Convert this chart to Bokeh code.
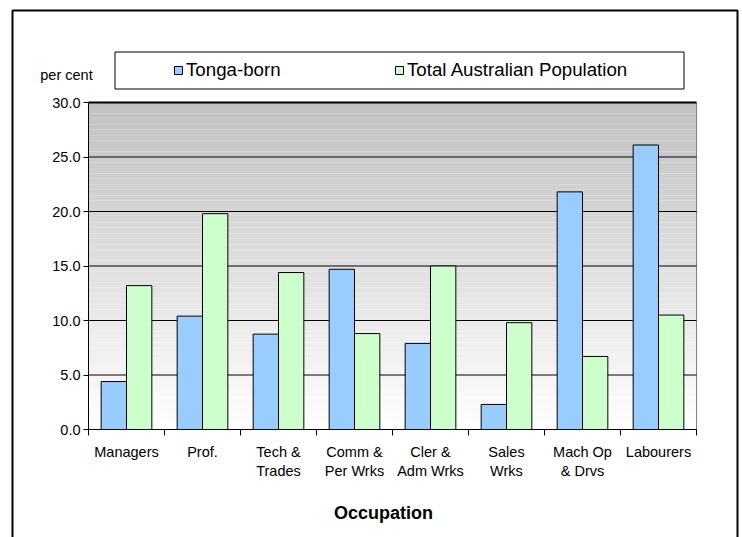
import numpy as np
from bokeh.plotting import figure
from bokeh.models import (Range1d, FixedTicker, NumeralTickFormatter, Legend, LegendItem,
                          BoxAnnotation, PolyAnnotation, Label, ColumnDataSource, LinearAxis)
from bokeh.embed import file_html
from bokeh.resources import INLINE

# ---- data ----
categories = ["Managers", "Prof.", "Tech &\nTrades", "Comm &\nPer Wrks",
              "Cler &\nAdm Wrks", "Sales\nWrks", "Mach Op\n& Drvs", "Labourers"]
tonga_born = [4.4, 10.4, 8.75, 14.7, 7.9, 2.3, 21.8, 26.1]
total_australian = [13.2, 19.8, 14.4, 8.8, 15.0, 9.8, 6.7, 10.5]
series_names = ["Tonga-born", "Total Australian Population"]
y_ticks = [0, 5, 10, 15, 20, 25, 30]
y_axis_title = "per cent"
x_axis_title = "Occupation"

FONT = "Liberation Sans"
BLUE = "#99ccff"
GREEN = "#ccffcc"

# ---- layout geometry (pixels) ----
W, H = 742, 537
PL, PR, PT, PB = 88, 696, 102, 429   # plot area

n = len(categories)
x0, x1 = -0.5, n - 0.5
y0, y1 = 0.0, 30.0
kx = (x1 - x0) / (PR - PL)
ky = (y1 - y0) / (PB - PT)

p = figure(width=W, height=H, output_backend="svg", toolbar_location=None,
           x_range=Range1d(x0 - PL * kx, x1 + (W - PR) * kx),
           y_range=Range1d(y0 - (H - PB) * ky, y1 + PT * ky),
           x_axis_location=None, y_axis_location=None,
           min_border=0, min_border_left=0, min_border_right=0,
           min_border_top=0, min_border_bottom=0)
p.background_fill_color = "white"
p.border_fill_color = "white"
p.outline_line_color = None
for g in p.grid:
    g.visible = False

# gradient background of the plot area (style only)
nb = 60
edges = np.linspace(y0, y1, nb + 1)
shades = []
for i in range(nb):
    t = (edges[i] + edges[i + 1]) / 2 / y1
    g = int(round(255 - (255 - 192) * t))
    shades.append("#%02x%02x%02x" % (g, g, g))
p.quad(left=x0, right=x1, bottom=edges[:-1], top=edges[1:],
       fill_color=shades, line_color=None, level="image")

# plot-area right edge (gray) and horizontal grid lines limited to the plot area
p.segment(x0=[x1], y0=[y0], x1=[x1], y1=[y1], line_color="#808080", line_width=1,
          level="underlay")
grid_w = [2 if t == max(y_ticks) else 1 for t in y_ticks]
p.segment(x0=x0, x1=x1, y0=y_ticks, y1=y_ticks, line_color="black",
          line_width=grid_w, level="underlay")

idx = np.arange(n)
bw = 1.0 / 3.0
src = ColumnDataSource(dict(x1=idx - bw / 2, x2=idx + bw / 2,
                            t=tonga_born, a=total_australian))
r1 = p.vbar(x="x1", top="t", width=bw, source=src, fill_color=BLUE,
            line_color="black", line_width=1)
r2 = p.vbar(x="x2", top="a", width=bw, source=src, fill_color=GREEN,
            line_color="black", line_width=1)

# axes
xa = LinearAxis(fixed_location=y0, bounds=(x0, x1))
xa.ticker = FixedTicker(ticks=list(range(n)), minor_ticks=[i - 0.5 for i in range(n + 1)])
xa.major_label_overrides = {i: c for i, c in enumerate(categories)}
xa.major_tick_in = 0
xa.major_tick_out = 0
xa.minor_tick_in = 0
xa.minor_tick_out = 6
xa.minor_tick_line_color = "black"
xa.axis_line_color = "black"
xa.major_label_standoff = 8
xa.major_label_text_font = FONT
xa.major_label_text_font_size = "14.5px"
xa.major_label_text_color = "black"
p.add_layout(xa, "below")

ya = LinearAxis(fixed_location=x0, bounds=(y0, y1))
ya.ticker = FixedTicker(ticks=y_ticks)
ya.formatter = NumeralTickFormatter(format="0.0")
ya.major_tick_in = 0
ya.major_tick_out = 5
ya.minor_tick_line_color = None
ya.axis_line_color = "black"
ya.major_tick_line_color = "black"
ya.major_label_standoff = 3
ya.major_label_text_font = FONT
ya.major_label_text_font_size = "14.5px"
ya.major_label_text_color = "black"
p.add_layout(ya, "left")

# outer chart frame (open at the bottom) and legend box (screen px, origin bottom-left)
p.add_layout(PolyAnnotation(xs=[12, 12, 737, 737], ys=[-20, H - 10, H - 10, -20],
                            xs_units="screen", ys_units="screen",
                            fill_alpha=0, line_color="black", line_alpha=1.0,
                            line_width=2))
p.add_layout(BoxAnnotation(left=114.5, right=683.5, top=H - 51.5, bottom=H - 88.5,
                           left_units="screen", right_units="screen",
                           top_units="screen", bottom_units="screen",
                           fill_color="white", fill_alpha=1,
                           line_color="black", line_alpha=1.0, line_width=1))

def mk_legend(item, xpix):
    return Legend(items=[item], location=(xpix, H - 81), orientation="horizontal",
                  border_line_color=None, background_fill_alpha=0, padding=0, margin=0,
                  glyph_width=10, glyph_height=10, label_standoff=3, spacing=0,
                  label_text_font=FONT, label_text_font_size="18.7px",
                  label_text_color="black", label_height=22)

p.add_layout(mk_legend(LegendItem(label=series_names[0], renderers=[r1]), 173))
p.add_layout(mk_legend(LegendItem(label=series_names[1], renderers=[r2]), 394))

p.add_layout(Label(x=66, y=H - 74, x_units="screen", y_units="screen",
                   text=y_axis_title, text_align="center", text_baseline="middle",
                   text_font=FONT, text_font_size="14.5px", text_color="black"))
p.add_layout(Label(x=383, y=H - 512, x_units="screen", y_units="screen",
                   text=x_axis_title, text_align="center", text_baseline="middle",
                   text_font=FONT, text_font_size="18px", text_font_style="bold",
                   text_color="black"))

open("out.html", "w").write(file_html(p, INLINE))
